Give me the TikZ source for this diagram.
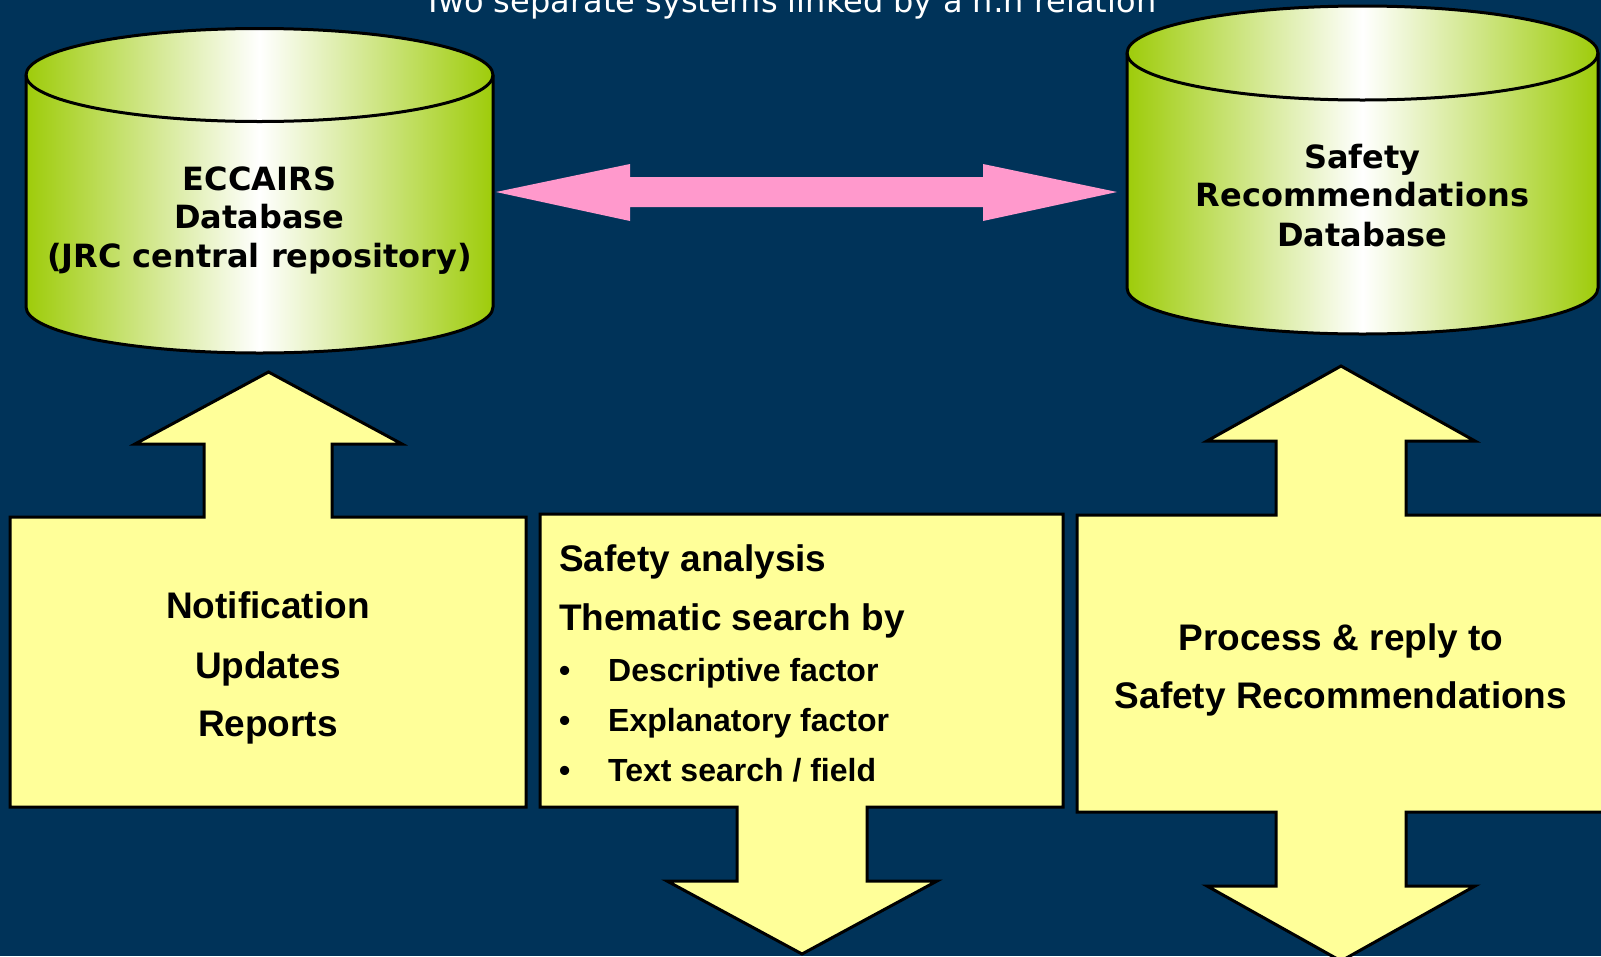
\documentclass[tikz,border=0pt]{standalone}
\usepackage{fontspec}
\setmainfont{Liberation Sans}
\newfontfamily\verd{DejaVu Sans}
\definecolor{navy}{RGB}{0,51,89}
\definecolor{cylgreen}{RGB}{158,204,10}
\definecolor{paleyellow}{RGB}{255,255,153}
\definecolor{linkpink}{RGB}{255,153,204}
\tikzset{
  cylfill/.style={left color=cylgreen, right color=cylgreen, middle color=white},
  outline/.style={draw=black, line width=3pt, line join=miter},
  block/.style={fill=paleyellow, draw=black, line width=3pt, line join=miter},
  cyltext/.style={inner sep=0pt, anchor=base, text=black, font=\verd\bfseries\fontsize{32}{38}\selectfont},
  boxtext/.style={inner sep=0pt, anchor=base, text=black, font=\bfseries\fontsize{37}{44}\selectfont},
  boxtextl/.style={boxtext, anchor=base west},
  itemtext/.style={inner sep=0pt, anchor=base west, text=black, font=\bfseries\fontsize{32}{38}\selectfont},
}
\begin{document}
\begin{tikzpicture}[x=1pt,y=1pt]
\useasboundingbox (0,0) rectangle (1601,-956);
\clip (0,0) rectangle (1601,-956);
\fill[navy] (0,0) rectangle (1601,-956);

% title
\node[inner sep=0pt, anchor=base, text=white, font=\verd\fontsize{32}{38}\selectfont] (title) at (790,-12.5) {Two separate systems linked by a n:n relation};

% left cylinder
\path[cylfill] (26,-75) arc[start angle=180,end angle=0,x radius=233.5,y radius=46.5] -- (493,-307) arc[start angle=0,end angle=-180,x radius=233.5,y radius=46] -- cycle;
\draw[outline] (26,-75) arc[start angle=180,end angle=0,x radius=233.5,y radius=46.5] -- (493,-307) arc[start angle=0,end angle=-180,x radius=233.5,y radius=46] -- cycle;
\draw[outline] (26,-75) arc[start angle=180,end angle=360,x radius=233.5,y radius=46.5];
\node[cyltext] (ecc1) at (259.5,-190) {ECCAIRS};
\node[cyltext] (ecc2) at (259.5,-228.5) {Database};
\node[cyltext] (ecc3) at (259.5,-267) {(JRC central repository)};

% right cylinder
\path[cylfill] (1127,-53) arc[start angle=180,end angle=0,x radius=235.5,y radius=47] -- (1598,-288) arc[start angle=0,end angle=-180,x radius=235.5,y radius=46] -- cycle;
\draw[outline] (1127,-53) arc[start angle=180,end angle=0,x radius=235.5,y radius=47] -- (1598,-288) arc[start angle=0,end angle=-180,x radius=235.5,y radius=46] -- cycle;
\draw[outline] (1127,-53) arc[start angle=180,end angle=360,x radius=235.5,y radius=47];
\node[cyltext] (sr1) at (1362.5,-168.7) {Safety};
\node[cyltext] (sr2) at (1362.5,-206.7) {Recommendations};
\node[cyltext] (sr3) at (1362.5,-246.7) {Database};

% pink n:n link
\coordinate (pinkL) at (496,-192);
\coordinate (pinkR) at (1117,-192);
\fill[linkpink] (pinkL) -- (630,-164) -- (630,-177) -- (983,-177) -- (983,-164) -- (pinkR) -- (983,-221) -- (983,-207) -- (630,-207) -- (630,-221) -- cycle;

% left block with up arrow
\draw[block] (10,-517) -- (204,-517) -- (204,-444) -- (135,-444) -- (268.5,-372) -- (402,-444) -- (332,-444) -- (332,-517) -- (526,-517) -- (526,-807) -- (10,-807) -- cycle;
\node[boxtext] (n1) at (268,-618) {Notification};
\node[boxtext] (n2) at (268,-678) {Updates};
\node[boxtext] (n3) at (268,-736) {Reports};

% middle block with down arrow
\draw[block] (540,-514) -- (1063,-514) -- (1063,-807) -- (867,-807) -- (867,-881) -- (937,-881) -- (802,-954) -- (667,-881) -- (737,-881) -- (737,-807) -- (540,-807) -- cycle;
\node[boxtextl] (m1) at (559,-571) {Safety analysis};
\node[boxtextl] (m2) at (559,-630) {Thematic search by};
\node[itemtext] (m3) at (559,-681.5) {\makebox[49pt][l]{•}Descriptive factor};
\node[itemtext] (m4) at (559,-731.5) {\makebox[49pt][l]{•}Explanatory factor};
\node[itemtext] (m5) at (559,-781.5) {\makebox[49pt][l]{•}Text search / field};

% right block with double arrow
\draw[block] (1077,-515) -- (1276,-515) -- (1276,-441) -- (1207,-441) -- (1341,-366) -- (1475,-441) -- (1406,-441) -- (1406,-515) -- (1620,-515) -- (1620,-812) -- (1406,-812) -- (1406,-886) -- (1475,-886) -- (1341,-961) -- (1207,-886) -- (1276,-886) -- (1276,-812) -- (1077,-812) -- cycle;
\node[boxtext] (r1) at (1341,-650) {Process \& reply to};
\node[boxtext] (r2) at (1341,-708) {Safety Recommendations};
\end{tikzpicture}
\end{document}
